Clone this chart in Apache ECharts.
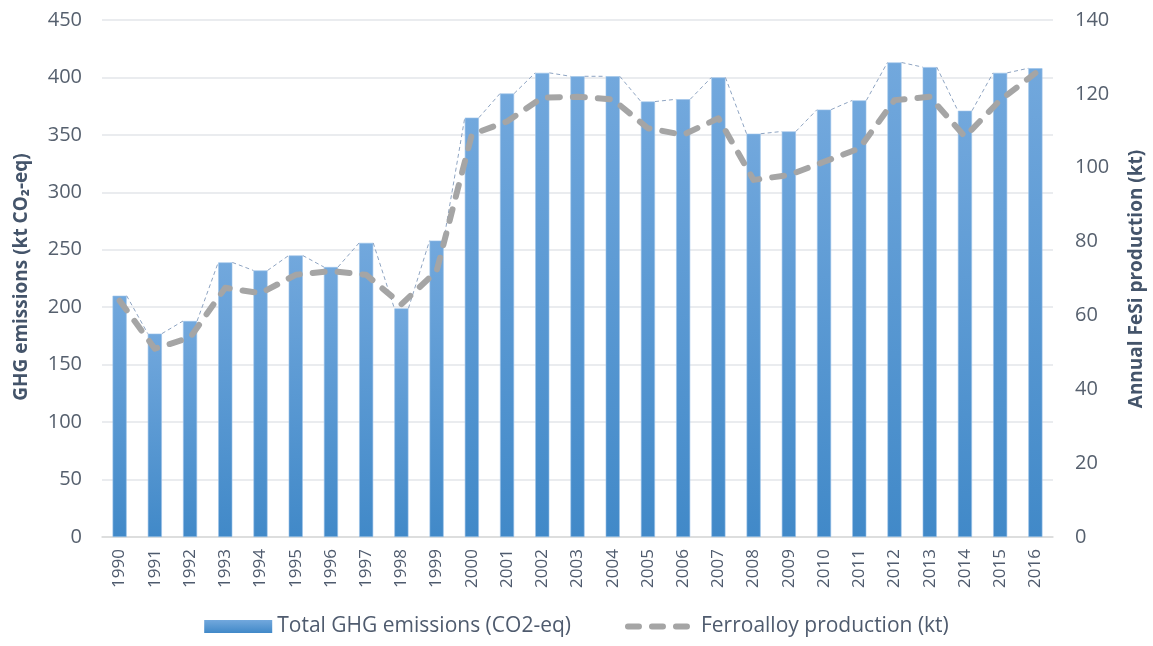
<!DOCTYPE html>
<html>
<head>
<meta charset="utf-8">
<script src="https://cdn.jsdelivr.net/npm/echarts@6/dist/echarts.min.js"></script>
<style>
html,body{margin:0;padding:0;background:#fff;}
#chart{width:1153px;height:646px;}
</style>
</head>
<body>
<div id="chart"></div>
<script>
const years = ['1990','1991','1992','1993','1994','1995','1996','1997','1998','1999','2000','2001','2002','2003','2004','2005','2006','2007','2008','2009','2010','2011','2012','2013','2014','2015','2016'];
const ghgEmissions = [210,177,188,239,232,245,235,256,199,258,365,386,404,401,401,379,381,400,351,353,372,380,413,409,371,404,408];
const ferroalloyProduction = [64,51,54,67.5,66,71,72,71,63,72,109,112.5,119,119.2,118.5,110.7,108.9,113.4,96.7,98,101.6,105.2,118.3,119.2,108.4,118.3,125.6];
const leftTicks = {min:0,max:450,interval:50};
const rightTicks = {min:0,max:140,interval:20};
const leftAxisTitle = 'GHG emissions (kt CO\u2082-eq)';
const rightAxisTitle = 'Annual FeSi production (kt)';

const FONT = 'Open Sans';
const BAR_RATIO = 0.4;
const barGradient = () => new echarts.graphic.LinearGradient(0,0,0,1,[{offset:0,color:'#72A8DD'},{offset:1,color:'#4189C8'}]);
const titleStyle = {fontSize:19, fontWeight:'bold', fontFamily:FONT, fill:'#44546A', align:'center', verticalAlign:'middle'};
const chart = echarts.init(document.getElementById('chart'), null, {renderer:'canvas'});
chart.setOption({
  animation:false,
  textStyle:{fontFamily:FONT},
  grid:{left:102,right:100,top:20,bottom:109,containLabel:false},
  graphic:[
    {type:'text', x:22, y:277, rotation:Math.PI/2, style:Object.assign({text:leftAxisTitle}, titleStyle)},
    {type:'text', x:1137, y:279, rotation:Math.PI/2, style:Object.assign({text:rightAxisTitle}, titleStyle)}
  ],
  legend:{
    bottom:4, left:'center', itemGap:54, padding:[5,0,5,8],
    textStyle:{fontSize:21,color:'#4F5B6E',fontFamily:FONT},
    data:[
      {name:'Total GHG emissions (CO2-eq)', icon:'rect', itemStyle:{color:barGradient(), borderWidth:0}},
      {name:'Ferroalloy production (kt)', itemStyle:{opacity:0},
        lineStyle:{color:'#A5A5A5',width:6,type:[11,13],cap:'round'}}
    ],
    itemWidth:68, itemHeight:13
  },
  xAxis:{
    type:'category', data:years,
    axisLine:{lineStyle:{color:'#D9D9D9',width:1.5}},
    axisTick:{show:false},
    axisLabel:{rotate:90,fontSize:17,color:'#4F5B6E',margin:12,fontFamily:FONT}
  },
  yAxis:[
    {
      type:'value', min:leftTicks.min, max:leftTicks.max, interval:leftTicks.interval,
      axisLine:{show:false}, axisTick:{show:false},
      axisLabel:{fontSize:20,color:'#56606E',margin:20,fontFamily:FONT},
      splitLine:{lineStyle:{color:'#E3E6EA',width:1.5}}
    },
    {
      type:'value', min:rightTicks.min, max:rightTicks.max, interval:rightTicks.interval,
      axisLine:{show:false}, axisTick:{show:false},
      axisLabel:{fontSize:20,color:'#56606E',margin:22,fontFamily:FONT},
      splitLine:{show:false}
    }
  ],
  series:[
    {
      name:'Total GHG emissions (CO2-eq)', type:'bar', data:ghgEmissions,
      barWidth:(BAR_RATIO*100)+'%', yAxisIndex:0, z:2,
      itemStyle:{color:barGradient(), borderColor:'#9CC3EA', borderWidth:0.6}
    },
    {
      name:'seriesLines', type:'custom', yAxisIndex:0, z:3, silent:true,
      data:ghgEmissions.slice(0,-1).map((v,i)=>[i,v,ghgEmissions[i+1]]),
      renderItem:function(params,api){
        const i = api.value(0);
        const p1 = api.coord([i, api.value(1)]);
        const p2 = api.coord([i+1, api.value(2)]);
        const hw = api.size([1,0])[0]*BAR_RATIO/2;
        return {type:'line', shape:{x1:p1[0]+hw,y1:p1[1],x2:p2[0]-hw,y2:p2[1]},
          style:{stroke:'#8EA4C2',lineWidth:1,lineDash:[4,3]}};
      }
    },
    {
      name:'Ferroalloy production (kt)', type:'line', data:ferroalloyProduction, yAxisIndex:1, z:4,
      symbol:'none', smooth:false,
      itemStyle:{color:'#A5A5A5'},
      lineStyle:{color:'#A5A5A5',width:6,type:[12,13],cap:'round',join:'round'}
    }
  ]
});
</script>
</body>
</html>
